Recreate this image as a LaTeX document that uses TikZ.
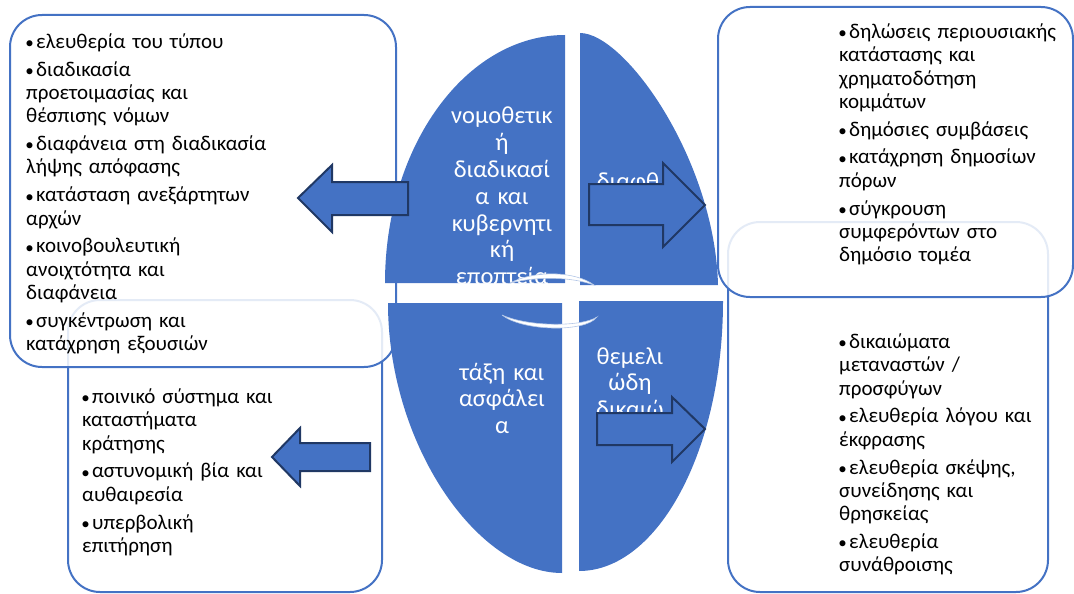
\documentclass[tikz,border=0pt]{standalone}
\usepackage{fontspec}
\setmainfont{Carlito}
\definecolor{quadblue}{HTML}{4472C4}
\definecolor{arrowedge}{HTML}{203864}
\definecolor{ringedge}{HTML}{B4C7E7}
\newcommand{\itm}[1]{\par\hangindent=10pt\hangafter=1\noindent\makebox[10pt][l]{\hspace{-0.8pt}\raisebox{-0.4pt}{\fontsize{17}{17}\selectfont •}}#1\par\vspace{4.3pt}}
\begin{document}
\begin{tikzpicture}[x=1pt,y=-1pt,
    listbox/.style={draw=quadblue,line width=2pt,rounded corners=32pt,fill=white},
    topbox/.style={listbox,fill opacity=0.86},
    listtext/.style={anchor=base west,inner sep=0pt,text width=250pt,align=left,
        font=\fontsize{21}{23.4}\selectfont},
    quad/.style={fill=quadblue},
    quadtext/.style={anchor=base,inner sep=0pt,text width=130pt,align=center,text=white,
        font=\fontsize{24.5}{26.8}\selectfont},
    blockarrow/.style={fill=quadblue,draw=arrowedge,line width=2pt,line join=miter},
    ring/.style={fill=white,draw=ringedge,line width=0.6pt}]
    \useasboundingbox (0,0) rectangle (1074,594);
    \draw[listbox] (68,300) rectangle (382,592);
    \draw[listbox] (728,222) rectangle (1048,592);
    \draw[topbox] (10,15) rectangle (396,367);
    \draw[topbox] (718,7) rectangle (1073,297);
    \node[listtext] (press) at (26,25) {\itm{ελευθερία του τύπου}\itm{διαδικασία\\προετοιμασίας και\\θέσπισης νόμων}\itm{διαφάνεια στη διαδικασία\\λήψης απόφασης}\itm{κατάσταση ανεξάρτητων\\αρχών}\itm{κοινοβουλευτική\\ανοιχτότητα και\\διαφάνεια}\itm{συγκέντρωση και\\κατάχρηση εξουσιών}};
    \node[listtext] (assets) at (839,15) {\itm{δηλώσεις περιουσιακής\\κατάστασης και\\χρηματοδότηση\\κομμάτων}\itm{δημόσιες συμβάσεις}\itm{κατάχρηση δημοσίων\\πόρων}\itm{σύγκρουση\\συμφερόντων στο\\δημόσιο τομέα}};
    \node[listtext] (prison) at (82,380) {\itm{ποινικό σύστημα και\\καταστήματα\\κράτησης}\itm{αστυνομική βία και\\αυθαιρεσία}\itm{υπερβολική\\επιτήρηση}};
    \node[listtext] (migrants) at (839,325) {\itm{δικαιώματα\\μεταναστών /\\προσφύγων}\itm{ελευθερία λόγου και\\έκφρασης}\itm{ελευθερία σκέψης,\\συνείδησης και\\θρησκείας}\itm{ελευθερία\\συνάθροισης}};
    \fill[quad] (565,283) -- (385,283) .. controls (385,146) and (466,35) .. (565,35) -- cycle;
    \fill[quad] (580,285) -- (580,33) .. controls (625,33) and (715,160) .. (718,285) -- cycle;
    \fill[quad] (562,303) -- (388,303) .. controls (388,445) and (478,573) .. (562,573) -- cycle;
    \fill[quad] (579,301) -- (723,301) .. controls (723,450) and (658,571) .. (579,571) -- cycle;
    \node[quadtext] (legis) at (502,124) {νομοθετικ\\ή\\διαδικασί\\α και\\κυβερνητι\\κή\\εποπτεία};
    \node[quadtext] (corrupt) at (628,189) {διαφθ\\ορά};
    \node[quadtext] (order) at (502,380) {τάξη και\\ασφάλει\\α};
    \node[quadtext] (rights) at (630,364) {θεμελι\\ώδη\\δικαιώ};
    \filldraw[ring] (510,283) .. controls (535,270) and (575,271) .. (594,285) .. controls (572,277) and (538,276) .. (510,283) -- cycle;
    \filldraw[ring] (502,315) .. controls (522,331) and (585,333) .. (597,317) .. controls (582,327) and (528,327) .. (502,315) -- cycle;
    \filldraw[blockarrow] (298,198) -- (332,165) -- (332,182) -- (408,182) -- (408,215) -- (332,215) -- (332,232) -- cycle;
    \filldraw[blockarrow] (705,205) -- (663,163) -- (663,184) -- (589,184) -- (589,225) -- (663,225) -- (663,247) -- cycle;
    \filldraw[blockarrow] (272,457) -- (300,428) -- (300,443) -- (370,443) -- (370,471) -- (300,471) -- (300,486) -- cycle;
    \filldraw[blockarrow] (705,429) -- (672,397) -- (672,413) -- (597,413) -- (597,445) -- (672,445) -- (672,462) -- cycle;
\end{tikzpicture}
\end{document}
